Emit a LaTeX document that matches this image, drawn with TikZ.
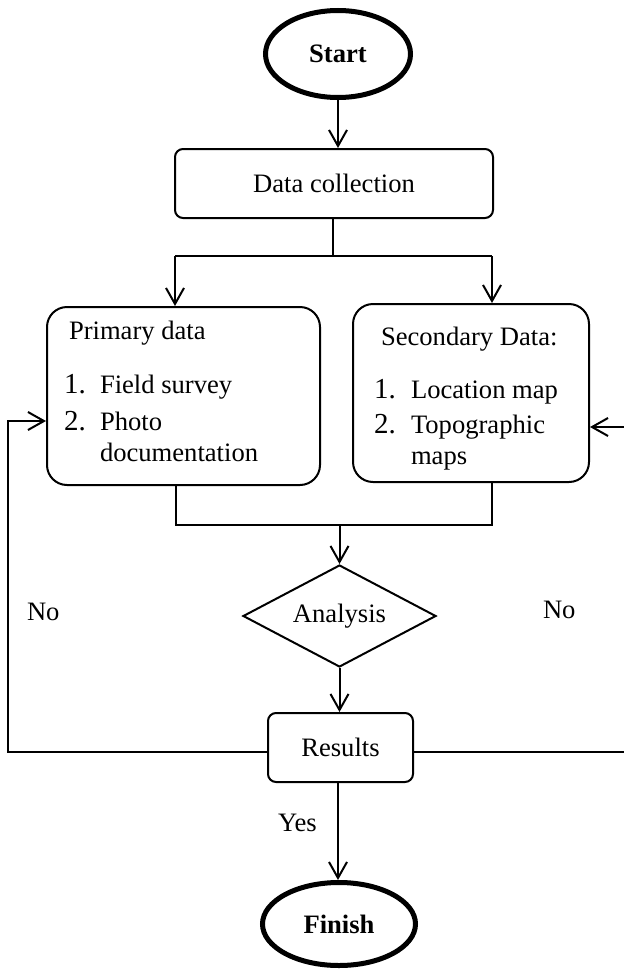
\documentclass[tikz,border=0pt]{standalone}
\usepackage{fontspec}
\setmainfont{Liberation Serif}
\usetikzlibrary{shapes.geometric,arrows.meta}
\begin{document}
\begin{tikzpicture}[x=0.5pt,y=-0.5pt,
  line width=1pt,
  every node/.style={font=\fontsize{13.3}{16}\selectfont},
  arr/.style={-{Straight Barb[length=8pt,width=9pt]}},
  roundbox/.style={draw,rounded corners=#1,inner sep=0pt},
  terminal/.style={draw,ellipse,line width=2.5pt,inner sep=0pt,font=\fontsize{13.3}{16}\selectfont\bfseries},
  label/.style={anchor=base west,inner sep=0pt},
  num/.style={anchor=base west,inner sep=0pt,font=\fontsize{14.5}{16}\selectfont}]
\useasboundingbox (0,0) rectangle (624,969);

% main flow
\node[terminal,minimum width=72.5pt,minimum height=43.5pt] (start) at (338,54) {Start};
\node[roundbox=4pt,minimum width=159pt,minimum height=34.5pt] (collect) at (334,183.5) {Data collection};
\node[roundbox=10pt,minimum width=136.5pt,minimum height=89pt] (primary) at (183.5,396) {};
\node[roundbox=10pt,minimum width=118pt,minimum height=89pt] (secondary) at (471,393) {};
\node[draw,diamond,aspect=1.9,inner sep=0pt,minimum width=96.5pt,minimum height=51pt] (analysis) at (339.5,616) {Analysis};
\node[roundbox=4pt,minimum width=72.5pt,minimum height=34.5pt] (results) at (340.5,747.5) {Results};
\node[terminal,minimum width=76.5pt,minimum height=41.5pt] (finish) at (339,924) {Finish};

% box contents
\node[label] (ptitle) at (68,339) {Primary data};
\node[num] (p1n) at (63,393) {1.};
\node[label] (p1) at (99,393) {Field survey};
\node[num] (p2n) at (63,430) {2.};
\node[label] (p2) at (99,430) {Photo};
\node[label] (p2b) at (99,461) {documentation};
\node[label] (stitle) at (380,345) {Secondary Data:};
\node[num] (s1n) at (373,398) {1.};
\node[label] (s1) at (410,398) {Location map};
\node[num] (s2n) at (373,433) {2.};
\node[label] (s2) at (410,433) {Topographic};
\node[label] (s2b) at (410,464) {maps};

% branch labels
\node[label] (nol) at (26,620) {No};
\node[label] (nor) at (542,618) {No};
\node[label] (yes) at (277,831) {Yes};

% connectors
\draw[arr] (start.south) -- (start.south |- collect.north);
\coordinate (split) at (333,256);
\coordinate (sl) at (175,256);
\coordinate (sr) at (492,256);
\draw (collect.south -| split) -- (split);
\draw (sl) -- (sr);
\draw[arr] (sl) -- (sl |- primary.north);
\draw[arr] (sr) -- (sr |- secondary.north);

\coordinate (jl) at (176,525);
\coordinate (jr) at (492,525);
\draw (jl |- primary.south) -- (jl) -- (jr) -- (jr |- secondary.south);
\draw[arr] (analysis.north |- jl) -- (analysis.north);
\draw[arr] (analysis.south) -- (analysis.south |- results.north);
\draw[arr] (results.south -| 338,0) -- (338,0 |- finish.north);

% feedback loops
\coordinate (lb) at (8,752);
\coordinate (lt) at (8,421);
\draw[arr] (results.west |- lb) -- (lb) -- (lt) -- (lt -| primary.west);
\coordinate (rb) at (630,752);
\coordinate (rt) at (630,427);
\draw[arr] (results.east |- rb) -- (rb) -- (rt) -- (rt -| secondary.east);
\end{tikzpicture}
\end{document}
